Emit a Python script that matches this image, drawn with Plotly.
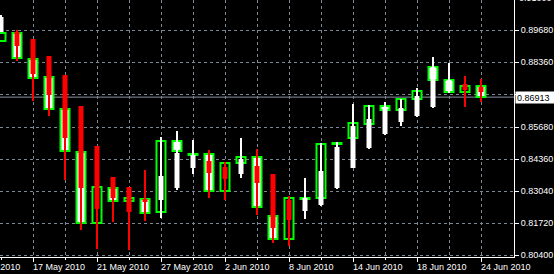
import plotly.graph_objects as go

# ---- data (daily candles + Heiken Ashi overlay) ----
dates = ["13 May", "14 May", "17 May", "18 May", "19 May", "20 May", "21 May",
         "24 May", "25 May", "26 May", "27 May", "28 May", "31 May", "1 Jun",
         "2 Jun", "3 Jun", "4 Jun", "7 Jun", "8 Jun", "9 Jun", "10 Jun", "11 Jun",
         "14 Jun", "15 Jun", "16 Jun", "17 Jun", "18 Jun", "21 Jun", "22 Jun",
         "23 Jun", "24 Jun"]

opens = [0.89228, 0.89558, 0.88485, 0.87743, 0.86423, 0.84649, 0.81720,
         0.83164, 0.82628, 0.82710, 0.82174, 0.85103, 0.84525, 0.84566,
         0.83040, 0.84195, 0.84443, 0.82009, 0.81060, 0.82710, 0.82751,
         0.84979, 0.85226, 0.85804, 0.86546, 0.86381, 0.86835, 0.88155,
         0.87619, 0.87124, 0.87371]
closes = [0.89558, 0.88526, 0.87701, 0.86423, 0.84690, 0.81720, 0.83205,
          0.82628, 0.82751, 0.82133, 0.85103, 0.84690, 0.84566, 0.83040,
          0.84195, 0.84443, 0.82380, 0.81060, 0.82751, 0.82751, 0.84979,
          0.85020, 0.85845, 0.86546, 0.86381, 0.86835, 0.87165, 0.87619,
          0.87124, 0.87371, 0.86913]

ha_open = [0.89599, 0.89599, 0.89310, 0.88609, 0.87825, 0.86546, 0.84896,
           0.83618, 0.83205, 0.82710, 0.82669, 0.83164, 0.83989, 0.84278,
           0.84030, 0.83741, 0.84071, 0.83741, 0.82669, 0.82215, 0.82463,
           0.83164, 0.83989, 0.84814, 0.85391, 0.85886, 0.86134, 0.86505,
           0.87330, 0.87454, 0.87330]
ha_close = [0.90218, 0.89021, 0.87866, 0.87000, 0.85226, 0.83164, 0.82298,
            0.82751, 0.82174, 0.82586, 0.83659, 0.84608, 0.84525, 0.83783,
            0.83535, 0.84360, 0.83370, 0.81514, 0.81844, 0.82751, 0.83865,
            0.84855, 0.85721, 0.86010, 0.86505, 0.86464, 0.86959, 0.88155,
            0.87619, 0.87206, 0.87124]
ha_high = [0.90300, 0.89681, 0.89310, 0.88609, 0.87825, 0.86546, 0.84896,
           0.83618, 0.83205, 0.83906, 0.85268, 0.85515, 0.85144, 0.84731,
           0.84236, 0.85226, 0.84773, 0.83741, 0.82834, 0.83576, 0.85020,
           0.85061, 0.86629, 0.86588, 0.86711, 0.86835, 0.87289, 0.88568,
           0.88320, 0.87784, 0.87660]
ha_low = [0.89599, 0.88403, 0.86753, 0.86134, 0.83494, 0.81431, 0.80648,
          0.81761, 0.80606, 0.81803, 0.81926, 0.83081, 0.83741, 0.82751,
          0.82669, 0.83576, 0.82050, 0.80895, 0.80771, 0.81885, 0.82421,
          0.83123, 0.83989, 0.84773, 0.85350, 0.85721, 0.86093, 0.86464,
          0.87083, 0.86505, 0.86711]

x_tick_idx = [-2, 2, 6, 10, 14, 18, 22, 26, 30]
x_tick_labels = ["11 May 2010", "17 May 2010", "21 May 2010", "27 May 2010",
                 "2 Jun 2010", "8 Jun 2010", "14 Jun 2010", "18 Jun 2010",
                 "24 Jun 2010"]
y_tick_vals = [0.8040, 0.8172, 0.8304, 0.8436, 0.8568, 0.8702, 0.8836, 0.8968]
y_tick_text = ["0.80400", "0.81720", "0.83040", "0.84360", "0.85680", "",
               "0.88360", "0.89680"]
top_label_val = 0.9100
top_label_text = "0.91000"
last_price = 0.86913

# ---- styling ----
GRID = "#7d8896"
FONT = "Liberation Sans"
X_RANGE = [-0.0625, 32.0625]
Y_RANGE = [0.803175, 0.9091875]
idx = list(range(len(dates)))


def x_paper(v):
    return (v - X_RANGE[0]) / (X_RANGE[1] - X_RANGE[0])


def y_paper(v):
    return (v - Y_RANGE[0]) / (Y_RANGE[1] - Y_RANGE[0])


box_fill = ["white" if c < o else "black" for o, c in zip(opens, closes)]
ha_col = ["white" if hc > ho else "red" for ho, hc in zip(ha_open, ha_close)]

fig = go.Figure()
fig.add_trace(go.Bar(
    x=idx, y=[abs(c - o) for o, c in zip(opens, closes)],
    base=[min(o, c) for o, c in zip(opens, closes)],
    width=0.5625, marker=dict(color=box_fill, line=dict(color="#00ff00", width=2)),
    hoverinfo="skip", showlegend=False))
fig.add_trace(go.Bar(
    x=idx, y=[h - l for h, l in zip(ha_high, ha_low)], base=ha_low,
    width=0.125, marker=dict(color=ha_col, line=dict(width=0)),
    hoverinfo="skip", showlegend=False))
fig.add_trace(go.Bar(
    x=idx, y=[abs(c - o) for o, c in zip(ha_open, ha_close)],
    base=[min(o, c) for o, c in zip(ha_open, ha_close)],
    width=0.3125, marker=dict(color=ha_col, line=dict(width=0)),
    hoverinfo="skip", showlegend=False))

# current price line
fig.add_shape(type="line", xref="paper", x0=0, x1=1, yref="y",
              y0=last_price, y1=last_price, layer="below",
              line=dict(color="#8a94a2", width=1))

annotations = []
for i, t in zip(x_tick_idx, x_tick_labels):
    annotations.append(dict(x=x_paper(i), xref="paper", y=0, yref="paper", text=t,
                            showarrow=False, xanchor="left", yanchor="middle",
                            yshift=-10, xshift=-2,
                            font=dict(family=FONT, size=9, color="white")))
annotations.append(dict(x=1, xref="paper", y=y_paper(top_label_val), yref="paper",
                        text=top_label_text, showarrow=False, xanchor="left",
                        yanchor="middle", xshift=3,
                        font=dict(family=FONT, size=9, color="white")))
annotations.append(dict(x=1, xref="paper", y=last_price, yref="y",
                        text="0.86913", showarrow=False, xanchor="left",
                        yanchor="middle", xshift=1, bgcolor="white",
                        borderpad=1, width=38, height=9, align="left",
                        font=dict(family=FONT, size=9, color="black")))

fig.update_layout(
    width=554, height=274,
    margin=dict(l=0, r=40, t=0, b=17),
    paper_bgcolor="black", plot_bgcolor="black",
    barmode="overlay", showlegend=False,
    annotations=annotations,
    xaxis=dict(range=X_RANGE, fixedrange=True,
               showgrid=False, zeroline=False,
               showline=True, linecolor="white", linewidth=1,
               tickvals=x_tick_idx, ticks="outside", ticklen=4,
               tickcolor="white", showticklabels=False,
               minor=dict(tickvals=list(range(0, 31, 2)), ticks="outside",
                          ticklen=2, tickcolor="white", showgrid=True,
                          gridcolor=GRID, griddash="3px,3px", gridwidth=1)),
    yaxis=dict(range=Y_RANGE, side="right", fixedrange=True,
               showgrid=True, gridcolor=GRID, griddash="3px,3px", gridwidth=1,
               zeroline=False, showline=True, linecolor="white", linewidth=1,
               tickvals=y_tick_vals, ticktext=y_tick_text, ticks="outside",
               ticklen=4, tickcolor="white",
               tickfont=dict(family=FONT, size=9, color="white")),
)

fig.write_html("out.html")
